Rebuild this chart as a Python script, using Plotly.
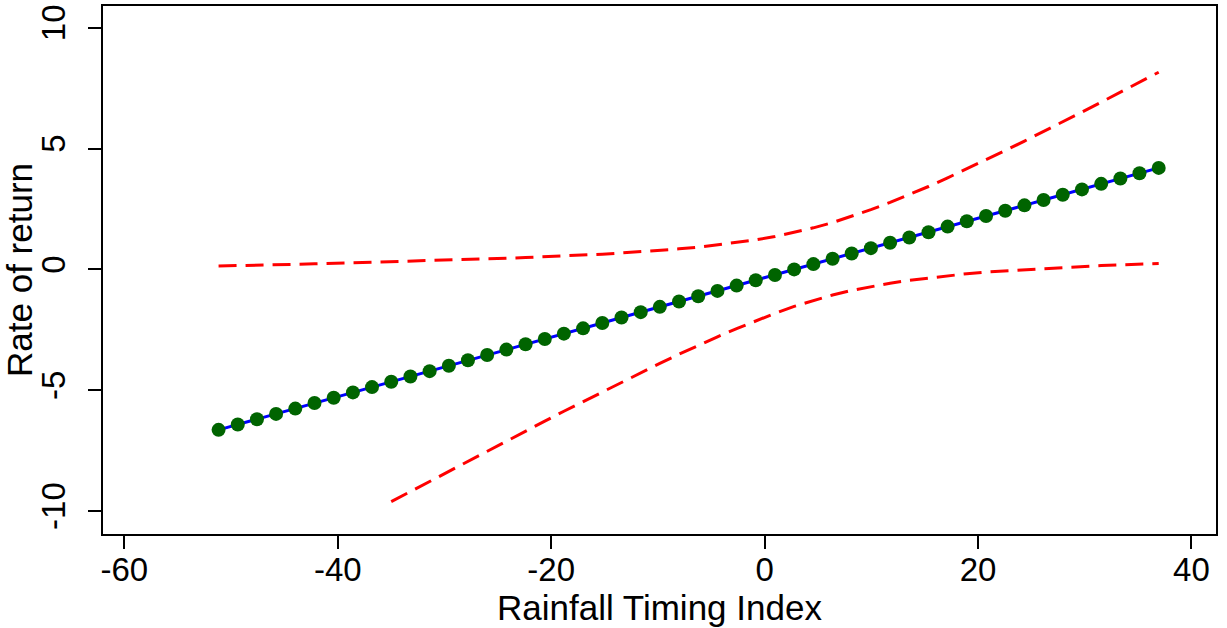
import plotly.graph_objects as go

rti = [-51.17, -49.37, -47.57, -45.78, -43.98, -42.18, -40.38, -38.58, -36.79, -34.99,
       -33.19, -31.39, -29.59, -27.80, -26.00, -24.20, -22.40, -20.60, -18.81, -17.01,
       -15.21, -13.41, -11.61, -9.82, -8.02, -6.22, -4.42, -2.62, -0.83, 0.97,
       2.77, 4.57, 6.37, 8.16, 9.96, 11.76, 13.56, 15.36, 17.15, 18.95,
       20.75, 22.55, 24.35, 26.14, 27.94, 29.74, 31.54, 33.34, 35.13, 36.93]

rate = [-6.64, -6.42, -6.20, -5.98, -5.76, -5.53, -5.31, -5.09, -4.87, -4.65,
        -4.43, -4.21, -3.99, -3.76, -3.54, -3.32, -3.10, -2.88, -2.66, -2.44,
        -2.22, -1.99, -1.77, -1.55, -1.33, -1.11, -0.89, -0.67, -0.45, -0.23,
        0.00, 0.22, 0.44, 0.66, 0.88, 1.10, 1.32, 1.54, 1.77, 1.99,
        2.21, 2.43, 2.65, 2.87, 3.09, 3.31, 3.54, 3.76, 3.98, 4.20]

upper = [0.14, 0.15, 0.17, 0.19, 0.21, 0.23, 0.25, 0.27, 0.29, 0.31,
         0.33, 0.35, 0.37, 0.41, 0.43, 0.46, 0.49, 0.52, 0.55, 0.59,
         0.63, 0.68, 0.73, 0.79, 0.85, 0.92, 1.01, 1.11, 1.22, 1.36,
         1.53, 1.72, 1.94, 2.19, 2.47, 2.77, 3.09, 3.43, 3.79, 4.16,
         4.53, 4.92, 5.31, 5.70, 6.10, 6.51, 6.92, 7.33, 7.74, 8.16]

lower = [None, None, None, None, None, None, None, None, None, -9.61,
         -9.19, -8.77, -8.35, -7.93, -7.51, -7.10, -6.69, -6.28, -5.87, -5.47,
         -5.07, -4.66, -4.27, -3.89, -3.51, -3.14, -2.79, -2.45, -2.12, -1.82,
         -1.53, -1.28, -1.06, -0.87, -0.71, -0.57, -0.45, -0.35, -0.25, -0.18,
         -0.11, -0.06, -0.01, 0.04, 0.08, 0.11, 0.16, 0.19, 0.22, 0.24]

x_ticks = [-60, -40, -20, 0, 20, 40]
y_ticks = [-10, -5, 0, 5, 10]

FONT = "Liberation Sans, Arial, sans-serif"

fig = go.Figure()
fig.add_trace(go.Scatter(x=rti, y=upper, mode="lines",
                         line=dict(color="#ff0000", width=3, dash="18px,9px"),
                         showlegend=False, connectgaps=False))
fig.add_trace(go.Scatter(x=rti, y=lower, mode="lines",
                         line=dict(color="#ff0000", width=3, dash="18px,9px"),
                         showlegend=False, connectgaps=False))
fig.add_trace(go.Scatter(x=rti, y=rate, mode="lines",
                         line=dict(color="#0000ff", width=3),
                         showlegend=False))
fig.add_trace(go.Scatter(x=rti, y=rate, mode="markers",
                         marker=dict(color="#006400", size=14),
                         showlegend=False))

fig.update_layout(
    width=1227, height=628,
    margin=dict(l=103, r=11, t=6, b=94),
    paper_bgcolor="white", plot_bgcolor="white",
    font=dict(family=FONT, color="black", size=33),
    xaxis=dict(range=[-62.0, 42.3], tickvals=x_ticks, ticktext=[str(v) for v in x_ticks],
               showgrid=False, zeroline=False, showline=True, mirror=True,
               linecolor="black", linewidth=2, ticks="outside", ticklen=13,
               tickwidth=2, tickcolor="black", tickfont=dict(size=33),
               ticklabelstandoff=-8, automargin=False,
               title=dict(text="Rainfall Timing Index", font=dict(size=35), standoff=8)),
    yaxis=dict(range=[-10.95, 10.9], tickvals=y_ticks, ticktext=[str(v) for v in y_ticks],
               showgrid=False, zeroline=False, showline=True, mirror=True,
               linecolor="black", linewidth=2, ticks="outside", ticklen=13,
               tickwidth=2, tickcolor="black", tickangle=-90, tickfont=dict(size=33),
               ticklabelstandoff=10, automargin=False,
               title=dict(text="Rate of return", font=dict(size=35), standoff=0)),
)

fig.write_html("out.html", config={"displayModeBar": False},
               post_script="document.body.style.margin='0';")
